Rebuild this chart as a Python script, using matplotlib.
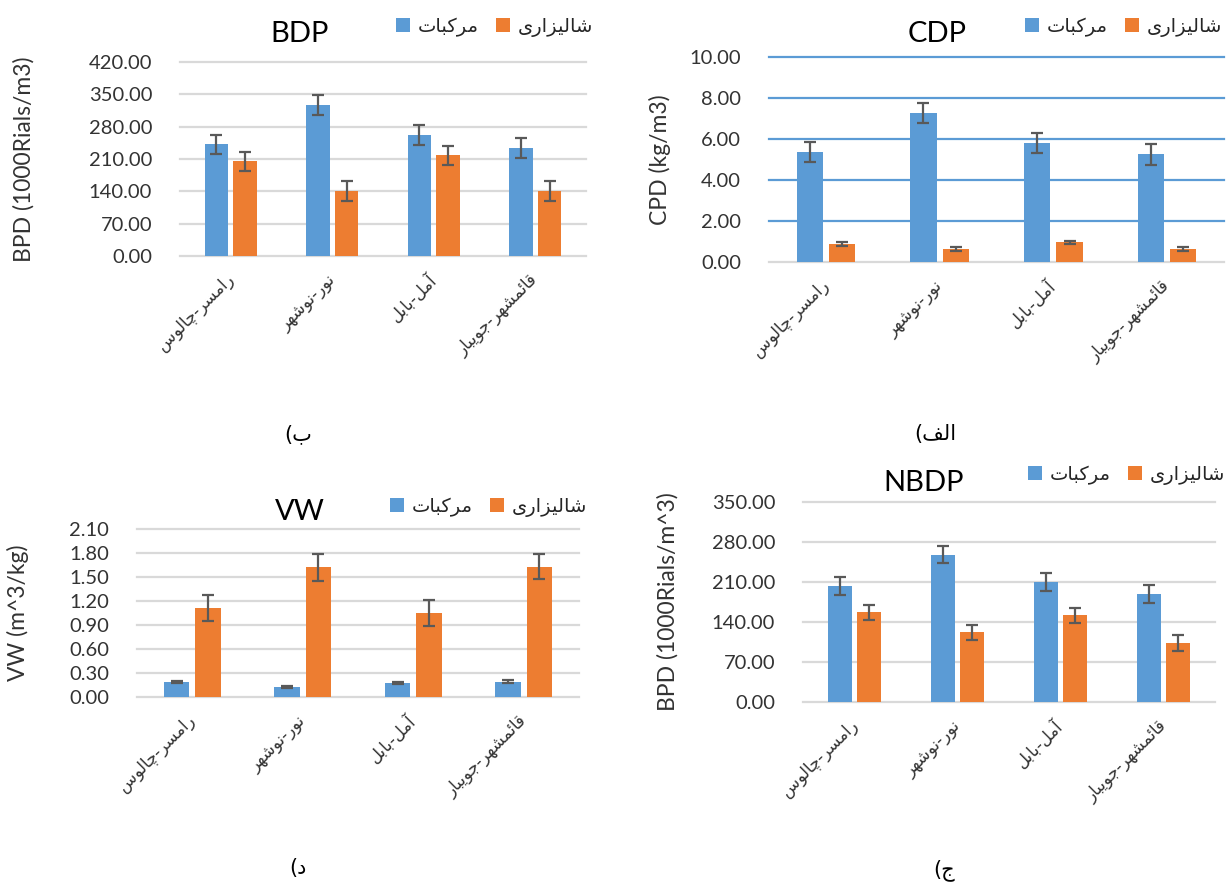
import matplotlib
matplotlib.use("Agg")
import matplotlib.pyplot as plt
import numpy as np

W, H = 1230, 882

# categories (regions) and series names
regions = ["رامسر-چالوس", "نور-نوشهر", "آمل-بابل", "قائمشهر-جویبار"]
series_names = ["مرکبات", "شالیزاری"]

# BDP
bdp_citrus = [242, 327, 262, 234]
bdp_citrus_err = [21, 21, 21, 21]
bdp_paddy = [205, 141, 218, 141]
bdp_paddy_err = [21, 21, 20, 21]

# CDP
cdp_citrus = [5.37, 7.27, 5.82, 5.25]
cdp_citrus_err = [0.47, 0.49, 0.48, 0.50]
cdp_paddy = [0.89, 0.62, 0.96, 0.62]
cdp_paddy_err = [0.10, 0.10, 0.08, 0.10]

# VW
vw_citrus = [0.19, 0.13, 0.17, 0.19]
vw_citrus_err = [0.015, 0.012, 0.013, 0.02]
vw_paddy = [1.11, 1.62, 1.05, 1.63]
vw_paddy_err = [0.16, 0.17, 0.16, 0.16]

# NBDP
nbdp_citrus = [203, 258, 210, 189]
nbdp_citrus_err = [15, 15, 16, 15]
nbdp_paddy = [157, 122, 152, 104]
nbdp_paddy_err = [13, 13, 13, 14]

BLUE = "#5B9BD5"
ORANGE = "#ED7D31"
GRID = "#D9D9D9"
ERR = "#595959"

# --- minimal Arabic/Persian shaping (matplotlib has no text shaping) ---
FORMS = {
    "ا": ("\uFE8D", "\uFE8E"), "آ": ("\uFE81", "\uFE82"),
    "د": ("\uFEA9", "\uFEAA"), "ر": ("\uFEAD", "\uFEAE"),
    "ز": ("\uFEAF", "\uFEB0"), "و": ("\uFEED", "\uFEEE"),
    "ب": ("\uFE8F", "\uFE90", "\uFE91", "\uFE92"),
    "ت": ("\uFE95", "\uFE96", "\uFE97", "\uFE98"),
    "ج": ("\uFE9D", "\uFE9E", "\uFE9F", "\uFEA0"),
    "س": ("\uFEB1", "\uFEB2", "\uFEB3", "\uFEB4"),
    "ش": ("\uFEB5", "\uFEB6", "\uFEB7", "\uFEB8"),
    "ف": ("\uFED1", "\uFED2", "\uFED3", "\uFED4"),
    "ق": ("\uFED5", "\uFED6", "\uFED7", "\uFED8"),
    "ل": ("\uFEDD", "\uFEDE", "\uFEDF", "\uFEE0"),
    "م": ("\uFEE1", "\uFEE2", "\uFEE3", "\uFEE4"),
    "ن": ("\uFEE5", "\uFEE6", "\uFEE7", "\uFEE8"),
    "ه": ("\uFEE9", "\uFEEA", "\uFEEB", "\uFEEC"),
    "ئ": ("\uFE89", "\uFE8A", "\uFE8B", "\uFE8C"),
    "چ": ("\uFB7A", "\uFB7B", "\uFB7C", "\uFB7D"),
    "ک": ("\uFB8E", "\uFB8F", "\uFB90", "\uFB91"),
    "ی": ("\uFBFC", "\uFBFD", "\uFBFE", "\uFBFF"),
}


def dual(c):
    return c in FORMS and len(FORMS[c]) == 4


def shape(text):
    out = []
    for i, c in enumerate(text):
        if c not in FORMS:
            out.append(c)
            continue
        prev = text[i - 1] if i > 0 else ""
        nxt = text[i + 1] if i + 1 < len(text) else ""
        jp = dual(prev)
        jn = dual(c) and nxt in FORMS
        f = FORMS[c]
        if jp and jn:
            out.append(f[3])
        elif jp:
            out.append(f[1])
        elif jn:
            out.append(f[2])
        else:
            out.append(f[0])
    return "".join(reversed(out))


def fx(x):
    return x / W


def fy(y):
    return 1 - y / H


AR = ["DejaVu Sans"]
LAT = ["Lato", "DejaVu Sans"]

fig = plt.figure(figsize=(W / 100, H / 100), dpi=100)

panels = [
    dict(title="BDP", ylabel="BPD (1000Rials/m3)", a=bdp_citrus, ae=bdp_citrus_err,
         b=bdp_paddy, be=bdp_paddy_err, ymax=420, step=70, box=(180, 62, 586, 256),
         grid=GRID, txy=(300, 34), leg=(396, 27), ylx=24, tag="ب", tagxy=(298, 434)),
    dict(title="CDP", ylabel="CPD (kg/m3)", a=cdp_citrus, ae=cdp_citrus_err,
         b=cdp_paddy, be=cdp_paddy_err, ymax=10, step=2, box=(769, 57, 1224, 262),
         grid=BLUE, txy=(937, 34), leg=(1025, 27), ylx=660, tag="الف", tagxy=(935, 434)),
    dict(title="VW", ylabel="VW (m^3/kg)", a=vw_citrus, ae=vw_citrus_err,
         b=vw_paddy, be=vw_paddy_err, ymax=2.1, step=0.3, box=(137, 529, 579, 697),
         grid=GRID, txy=(300, 512), leg=(390, 507), ylx=18, tag="د", tagxy=(298, 868)),
    dict(title="NBDP", ylabel="BPD (1000Rials/m^3)", a=nbdp_citrus, ae=nbdp_citrus_err,
         b=nbdp_paddy, be=nbdp_paddy_err, ymax=350, step=70, box=(803, 502, 1215, 702),
         grid=GRID, txy=(924, 483), leg=(1028, 475), ylx=668, tag="ج", tagxy=(944, 870)),
]

x = np.arange(len(regions))
bw = 0.23
off = 0.142
labels_rtl = [shape(r) for r in regions]

for p in panels:
    l, t, r, b = p["box"]
    ax = fig.add_axes([fx(l), fy(b), (r - l) / W, (b - t) / H])
    ekw = dict(ecolor=ERR, elinewidth=1.6, capsize=4.5, capthick=1.6)
    b1 = ax.bar(x - off, p["a"], bw, yerr=p["ae"], color=BLUE, error_kw=ekw, zorder=3)
    b2 = ax.bar(x + off, p["b"], bw, yerr=p["be"], color=ORANGE, error_kw=ekw, zorder=3)
    ax.set_xlim(-0.5, len(regions) - 0.5)
    ax.set_ylim(0, p["ymax"])
    ticks = np.arange(0, p["ymax"] + p["step"] / 2, p["step"])
    ax.set_yticks(ticks)
    ax.set_yticklabels(["%.2f" % v for v in ticks], family=LAT, fontsize=14.5, color="#333333")
    for v in ticks:
        c = GRID if v == 0 else p["grid"]
        ax.axhline(v, color=c, lw=1.6, zorder=1, clip_on=False)
    for s in ax.spines.values():
        s.set_visible(False)
    ax.tick_params(axis="y", length=0, pad=20)
    ax.tick_params(axis="x", length=0, pad=15)
    ax.set_xticks(x)
    ax.set_xticklabels(labels_rtl, family=AR, fontsize=12, color="#333333",
                       rotation=45, ha="right", va="center", rotation_mode="anchor")

    fig.text(fx(p["txy"][0]), fy(p["txy"][1]), p["title"], family=LAT, fontsize=21,
             ha="center", va="center", color="black")
    fig.text(fx(p["ylx"]), fy((t + b) / 2), p["ylabel"], family=LAT, fontsize=16.5,
             rotation=90, ha="center", va="center", color="#333333")
    # panel letter, closing bracket mirrored on the left as in RTL text
    fig.text(fx(p["tagxy"][0]), fy(p["tagxy"][1]), "(" + shape(p["tag"]), family=AR,
             fontsize=15, ha="center", va="center", color="black")

    leg = ax.legend([b1.patches[0], b2.patches[0]], [shape(n) for n in series_names],
                    loc="center left", bbox_to_anchor=(fx(p["leg"][0]), fy(p["leg"][1])),
                    bbox_transform=fig.transFigure, ncol=2, frameon=False,
                    prop=dict(family=AR, size=14), handlelength=0.7, handleheight=0.7,
                    handletextpad=0.4, columnspacing=0.9, borderpad=0, borderaxespad=0)
    for txt in leg.get_texts():
        txt.set_color("#262626")

fig.savefig("out.png", dpi=100)
